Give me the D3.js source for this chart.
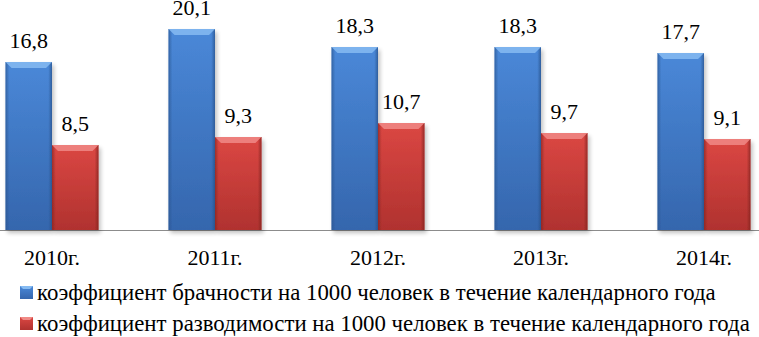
<!DOCTYPE html>
<html>
<head>
<meta charset="utf-8">
<script src="https://cdn.jsdelivr.net/npm/d3@7"></script>
</head>
<body style="margin:0">
<svg id="chart"></svg>
<script>
// data
var years = ["2010г.", "2011г.", "2012г.", "2013г.", "2014г."];
var marriage = [16.8, 20.1, 18.3, 18.3, 17.7];
var divorce = [8.5, 9.3, 10.7, 9.7, 9.1];
var seriesNames = [
  "коэффициент брачности на 1000 человек в течение календарного года",
  "коэффициент разводимости на 1000 человек в течение календарного года"
];

var width = 759, height = 337;
var font = "Liberation Serif";
var svg = d3.select("#chart").attr("width", width).attr("height", height);

// chart is a bit cropped on the sides in the original
var x = d3.scaleBand().domain(years).range([-29.5, 785.5])
  .paddingInner(0.43).paddingOuter(0.215);
var xs = d3.scaleBand().domain([0, 1]).range([0, x.bandwidth()]);
var y = d3.scaleLinear().domain([0, 20.1]).range([230, 29]);

var colors = [
  { top: "#4a88d8", bot: "#3566ad", bevel: "#86bbf2", edge: "#2a558f" },
  { top: "#db4743", bot: "#b0322f", bevel: "#f08a86", edge: "#852421" }
];

var defs = svg.append("defs");
colors.forEach(function(c, i) {
  var g = defs.append("linearGradient").attr("id", "grad" + i)
    .attr("x1", 0).attr("y1", 0).attr("x2", 0).attr("y2", 1);
  g.append("stop").attr("offset", "0%").attr("stop-color", c.top);
  g.append("stop").attr("offset", "100%").attr("stop-color", c.bot);
  var h = defs.append("linearGradient").attr("id", "edge" + i)
    .attr("x1", 0).attr("y1", 0).attr("x2", 1).attr("y2", 0);
  h.append("stop").attr("offset", "0%").attr("stop-color", c.edge).attr("stop-opacity", 0.7);
  h.append("stop").attr("offset", "8%").attr("stop-color", c.edge).attr("stop-opacity", 0);
  h.append("stop").attr("offset", "92%").attr("stop-color", c.edge).attr("stop-opacity", 0);
  h.append("stop").attr("offset", "100%").attr("stop-color", c.edge).attr("stop-opacity", 0.8);
});
var f = defs.append("filter").attr("id", "shadow").attr("x", "-20%").attr("y", "-10%")
  .attr("width", "140%").attr("height", "130%");
f.append("feGaussianBlur").attr("in", "SourceAlpha").attr("stdDeviation", 2);
f.append("feOffset").attr("dx", 2).attr("dy", 3).attr("result", "b");
f.append("feComponentTransfer").append("feFuncA").attr("type", "linear").attr("slope", 0.25);
var m = f.append("feMerge");
m.append("feMergeNode");
m.append("feMergeNode").attr("in", "SourceGraphic");

var series = [marriage, divorce];

// baseline
svg.append("line").attr("x1", 0).attr("x2", width).attr("y1", y(0) + 0.5).attr("y2", y(0) + 0.5)
  .attr("stroke", "#8c8c8c").attr("stroke-width", 1);

series.forEach(function(vals, si) {
  var g = svg.append("g");
  var bars = g.selectAll("g.bar").data(vals).enter().append("g").attr("class", "bar")
    .attr("filter", "url(#shadow)");
  var bw = xs.bandwidth();
  bars.append("rect")
    .attr("x", function(d, i) { return x(years[i]) + xs(si); })
    .attr("y", function(d) { return y(d); })
    .attr("width", bw)
    .attr("height", function(d) { return y(0) - y(d); })
    .attr("fill", "url(#grad" + si + ")");
  bars.append("rect")
    .attr("x", function(d, i) { return x(years[i]) + xs(si); })
    .attr("y", function(d) { return y(d); })
    .attr("width", bw)
    .attr("height", function(d) { return y(0) - y(d); })
    .attr("fill", "url(#edge" + si + ")");
  // top bevel
  bars.append("path")
    .attr("d", function(d, i) {
      var x0 = x(years[i]) + xs(si), x1 = x0 + bw, t = y(d), b = 6;
      return "M" + x0 + "," + t + "L" + x1 + "," + t + "L" + (x1 - b) + "," + (t + b) +
        "L" + (x0 + b) + "," + (t + b) + "Z";
    })
    .attr("fill", colors[si].bevel).attr("opacity", 0.85);

  g.selectAll("text.val").data(vals).enter().append("text").attr("class", "val")
    .attr("x", function(d, i) { return x(years[i]) + xs(si) + bw / 2; })
    .attr("y", function(d) { return y(d) - 14; })
    .attr("text-anchor", "middle")
    .attr("font-family", font)
    .attr("font-size", 22)
    .text(function(d) { return d3.format(".1f")(d).replace(".", ","); });
});

// category labels
svg.selectAll("text.cat").data(years).enter().append("text").attr("class", "cat")
  .attr("x", function(d) { return x(d) + x.bandwidth() / 2; })
  .attr("y", 265)
  .attr("text-anchor", "middle")
  .attr("font-family", font)
  .attr("font-size", 22)
  .text(function(d) { return d; });

// legend
var leg = svg.selectAll("g.leg").data(seriesNames).enter().append("g").attr("class", "leg")
  .attr("transform", function(d, i) { return "translate(20," + (286 + i * 31) + ")"; });
leg.append("rect").attr("width", 13).attr("height", 13)
  .attr("fill", function(d, i) { return "url(#grad" + i + ")"; });
leg.append("path").attr("d", "M0,0L13,0L10,3L3,3Z")
  .attr("fill", function(d, i) { return colors[i].bevel; });
leg.append("text").attr("x", 17).attr("y", 14)
  .attr("font-family", font)
  .attr("font-size", 22.8)
  .text(function(d) { return d; });
</script>
</body>
</html>
